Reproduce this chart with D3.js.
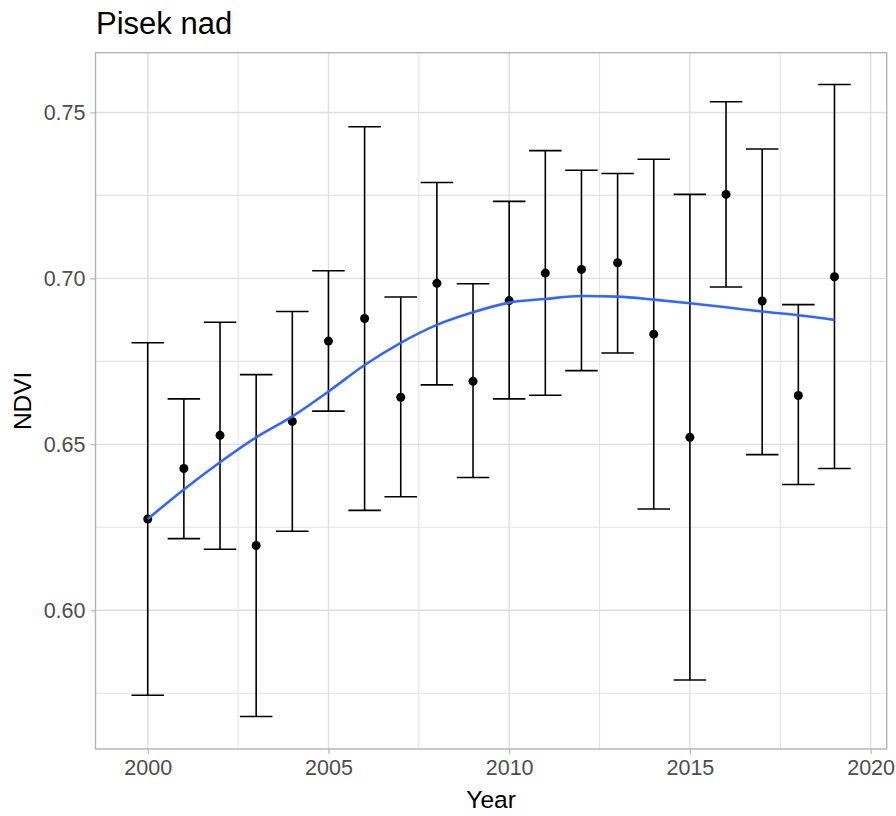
<!DOCTYPE html>
<html>
<head>
<meta charset="utf-8">
<script src="https://cdn.jsdelivr.net/npm/d3@7"></script>
<style>
  html, body { margin: 0; padding: 0; background: #fff; }
  svg { display: block; font-family: "Liberation Sans", Arial, sans-serif; }
</style>
</head>
<body>
<svg id="chart" width="896" height="816"></svg>
<script>
// ---- data ----
const years = [2000, 2001, 2002, 2003, 2004, 2005, 2006, 2007, 2008, 2009,
               2010, 2011, 2012, 2013, 2014, 2015, 2016, 2017, 2018, 2019];
const ndviMean = [0.6275, 0.6427, 0.6527, 0.6195, 0.6569, 0.6811, 0.6879, 0.6642, 0.6985, 0.6690,
                  0.6933, 0.7016, 0.7027, 0.7047, 0.6832, 0.6521, 0.7253, 0.6932, 0.6647, 0.7005];
const ndviUpper = [0.6806, 0.6637, 0.6868, 0.6710, 0.6900, 0.7023, 0.7457, 0.6944, 0.7289, 0.6984,
                   0.7232, 0.7385, 0.7326, 0.7316, 0.7359, 0.7253, 0.7532, 0.7390, 0.6921, 0.7584];
const ndviLower = [0.5744, 0.6216, 0.6184, 0.5680, 0.6238, 0.6600, 0.6301, 0.6342, 0.6679, 0.6400,
                   0.6637, 0.6648, 0.6722, 0.6775, 0.6305, 0.5790, 0.6974, 0.6469, 0.6379, 0.6427];
const smoothFit = [0.6275, 0.6364, 0.6446, 0.6521, 0.6584, 0.6659, 0.6739, 0.6806, 0.6860, 0.6898,
                   0.6927, 0.6938, 0.6947, 0.6945, 0.6936, 0.6925, 0.6913, 0.6900, 0.6889, 0.6875];
const xTicks = [2000, 2005, 2010, 2015, 2020];
const xMinor = [2002.5, 2007.5, 2012.5, 2017.5];
const yTicks = [0.60, 0.65, 0.70, 0.75];
const yMinor = [0.575, 0.625, 0.675, 0.725];
const titleText = "Pisek nad";
const xLabel = "Year";
const yLabel = "NDVI";

// ---- layout ----
const panel = { left: 95.5, top: 52.7, right: 886.7, bottom: 749 };
const capWidth = 0.9;

const svg = d3.select("#chart");

const x = d3.scaleLinear().domain([1998.555, 2020.445]).range([panel.left, panel.right]);
const y = d3.scaleLinear().domain([0.5582, 0.7680]).range([panel.bottom, panel.top]);

const rows = years.map((yr, i) => ({ yr, mean: ndviMean[i], hi: ndviUpper[i], lo: ndviLower[i], fit: smoothFit[i] }));

// grid
const grid = svg.append("g");
grid.selectAll("line.xminor").data(xMinor).join("line")
  .attr("x1", d => x(d)).attr("x2", d => x(d))
  .attr("y1", panel.top).attr("y2", panel.bottom)
  .attr("stroke", "#e3e3e3").attr("stroke-width", 1.1);
grid.selectAll("line.yminor").data(yMinor).join("line")
  .attr("y1", d => y(d)).attr("y2", d => y(d))
  .attr("x1", panel.left).attr("x2", panel.right)
  .attr("stroke", "#e3e3e3").attr("stroke-width", 1.1);
grid.selectAll("line.xmajor").data(xTicks).join("line")
  .attr("x1", d => x(d)).attr("x2", d => x(d))
  .attr("y1", panel.top).attr("y2", panel.bottom)
  .attr("stroke", "#dedede").attr("stroke-width", 1.4);
grid.selectAll("line.ymajor").data(yTicks).join("line")
  .attr("y1", d => y(d)).attr("y2", d => y(d))
  .attr("x1", panel.left).attr("x2", panel.right)
  .attr("stroke", "#dedede").attr("stroke-width", 1.4);

// axes
const xAxis = d3.axisBottom(x).tickValues(xTicks).tickFormat(d3.format("d")).tickSize(5).tickPadding(6);
const yAxis = d3.axisLeft(y).tickValues(yTicks).tickFormat(d3.format(".2f")).tickSize(5).tickPadding(5);

const gx = svg.append("g").attr("transform", `translate(0,${panel.bottom})`).call(xAxis);
const gy = svg.append("g").attr("transform", `translate(${panel.left},0)`).call(yAxis);
[gx, gy].forEach(g => {
  g.select(".domain").remove();
  g.selectAll(".tick line").attr("stroke", "#b3b3b3").attr("stroke-width", 1.2);
  g.selectAll(".tick text").attr("fill", "#4d4d4d").attr("font-size", 21.5)
    .attr("font-family", "Liberation Sans, Arial, sans-serif");
});

// error bars
const eb = svg.append("g");
eb.selectAll("line.v").data(rows).join("line")
  .attr("x1", d => x(d.yr)).attr("x2", d => x(d.yr))
  .attr("y1", d => y(d.lo)).attr("y2", d => y(d.hi))
  .attr("stroke", "#000").attr("stroke-width", 1.6);
eb.selectAll("line.top").data(rows).join("line")
  .attr("x1", d => x(d.yr - capWidth / 2)).attr("x2", d => x(d.yr + capWidth / 2))
  .attr("y1", d => y(d.hi)).attr("y2", d => y(d.hi))
  .attr("stroke", "#000").attr("stroke-width", 1.6);
eb.selectAll("line.bot").data(rows).join("line")
  .attr("x1", d => x(d.yr - capWidth / 2)).attr("x2", d => x(d.yr + capWidth / 2))
  .attr("y1", d => y(d.lo)).attr("y2", d => y(d.lo))
  .attr("stroke", "#000").attr("stroke-width", 1.6);

// points
svg.append("g").selectAll("circle").data(rows).join("circle")
  .attr("cx", d => x(d.yr)).attr("cy", d => y(d.mean)).attr("r", 4.5)
  .attr("fill", "#000");

// smooth line
const line = d3.line().x(d => x(d.yr)).y(d => y(d.fit)).curve(d3.curveMonotoneX);
svg.append("path").datum(rows).attr("d", line)
  .attr("fill", "none").attr("stroke", "#3366ff").attr("stroke-width", 2.6);

// panel border
svg.append("rect")
  .attr("x", panel.left).attr("y", panel.top)
  .attr("width", panel.right - panel.left).attr("height", panel.bottom - panel.top)
  .attr("fill", "none").attr("stroke", "#b3b3b3").attr("stroke-width", 1.4);

// titles
svg.append("text").attr("x", 96).attr("y", 34)
  .attr("font-size", 31).attr("fill", "#000").text(titleText);
svg.append("text").attr("x", (panel.left + panel.right) / 2).attr("y", 808)
  .attr("text-anchor", "middle").attr("font-size", 24.5).attr("fill", "#000").text(xLabel);
svg.append("text")
  .attr("transform", `translate(31,${(panel.top + panel.bottom) / 2}) rotate(-90)`)
  .attr("text-anchor", "middle").attr("font-size", 24.5).attr("fill", "#000").text(yLabel);
</script>
</body>
</html>
